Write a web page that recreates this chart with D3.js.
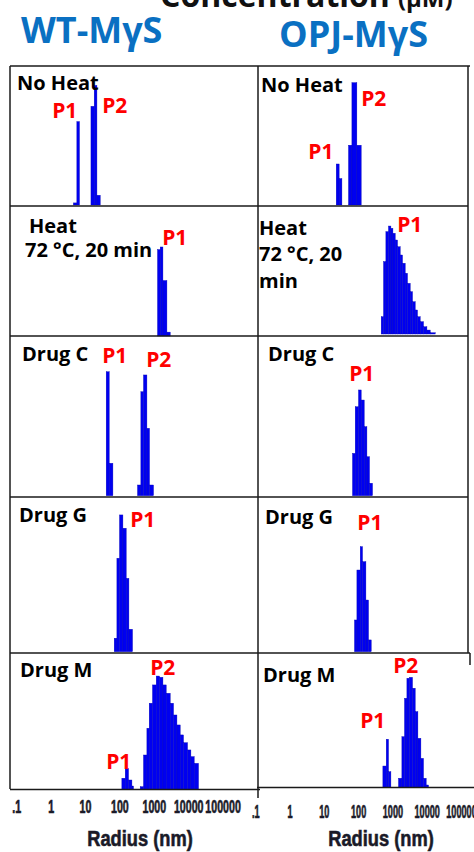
<!DOCTYPE html>
<html><head><meta charset="utf-8">
<script src="https://cdn.jsdelivr.net/npm/d3@7"></script>
<style>html,body{margin:0;padding:0;background:#fff;overflow:hidden}</style>
</head><body><svg id="c" width="474" height="852"></svg>
<script>
// ---------- DATA (radius in nm, intensity in % of panel height) ----------
const radiusTicks = [0.1, 1, 10, 100, 1000, 10000, 100000];
const columnNames = ["WT-MγS", "OPJ-MγS"];
const conditionNames = [["No Heat"], ["Heat", "72 °C, 20 min"], ["Drug C"], ["Drug G"], ["Drug M"]];
const conditionNamesOPJ = [["No Heat"], ["Heat", "72 °C, 20", "min"], ["Drug C"], ["Drug G"], ["Drug M"]];

// bars: [radius start, radius end, intensity]
const wtNoHeat = [[4.6,5.8,1.5],[5.8,6.9,60],[14.9,18.5,71],[18.5,22.2,86],[22.2,27.7,7]];
const wtHeat = [[1283,1535,67],[1535,1840,69],[1840,2404,43],[2404,3000,3]];
const wtDrugC = [[41.3,50.5,77.6],[50.5,64.7,20.3],[336,421,6.7],[421,502,65.1],[502,630,75.6],[630,750,42.2],[750,980,6.7]];
const wtDrugG = [[70.6,84.6,8.7],[84.6,100.7,60.4],[100.7,126.4,88.4],[126.4,157.6,79.8],[157.6,188.9,47.4],[188.9,240.4,14.5]];
const wtDrugM = [[118,147.5,8.1],[147.5,184,15.4],[184,231,6.8],[231,257,2.4],
  [402,502,1.9],[502,630,25.1],[630,735,44.7],[735,917,63],[917,1175,76.4],[1175,1465,82.9],[1465,1841,82],
  [1841,2292,76.4],[2292,2998,70.3],[2998,3741,63],[3741,4698,54.4],[4698,5852,47.1],[5852,7298,39.8],
  [7298,9550,34.1],[9550,11970,28.8],[11970,14930,23.9],[14930,19920,19]];

const opjNoHeat = [[23,28,29.5],[28,33.7,19],[52.5,66,43],[66,92,88],[92,123,43]];
const opjHeat = [[471,551,13.6],[551,646,57],[646,769,80.6],[769,904,85],[904,1035,83.2],[1035,1207,79.3],
  [1207,1409,74],[1409,1688,68.7],[1688,1969,62.2],[1969,2361,55.7],[2361,2754,47.8],[2754,3304,39.9],
  [3304,3855,33.3],[3855,4621,25.4],[4621,5393,18.9],[5393,6463,13.6],[6463,8070,9.7],[8070,10140,5.7],
  [10140,12650,3.1],[12650,17700,1.0]];
const opjDrugC = [[68.7,82.3,26.5],[82.3,102.7,55.7],[102.7,123,66.2],[123,150.6,59.9],[150.6,180.6,43.2],[180.6,215,24.4],[215,263,7.8]];
const opjDrugG = [[78.5,92.3,20.5],[92.3,115.2,52.8],[115.2,134.4,67.9],[134.4,168.7,58.2],[168.7,201,33.4],[201,241,7.6]];
const opjDrugM = [[528,660,15.8],[660,770,35.7],[770,904,11.6],
  [1506,1891,6.7],[1891,2254,37.6],[2254,2648,66.1],[2648,3153,81],[3153,3855,81.7],[3855,4621,73.6],
  [4621,5535,56.2],[5535,6771,36.4],[6771,8070,21.5],[8070,9660,6.7],[9660,11280,1.7]];

// peak labels: [text, radius, intensity]
const wtPeaks = [
  [["P1",1.11,62.6],["P2",31.6,66.2]],
  [["P1",1754,70.5]],
  [["P1",31.6,83.1],["P2",601,80.6]],
  [["P1",206,80.6]],
  [["P1",41.3,14.9],["P2",785,83.7]]
];
const opjPeaks = [
  [["P1",3.51,33.1],["P2",123,71.2]],
  [["P1",1380,80.3]],
  [["P1",55,71.8]],
  [["P1",94.2,78.7]],
  [["P1",115,44.1],["P2",1054,84.9]]
];

// ---------- LAYOUT ----------
const svg = d3.select("#c");
const xL = d3.scaleLog().domain([0.1, 1e5]).range([16.2, 16.2 + 34.4 * 6]);
const xR = d3.scaleLog().domain([0.1, 1e5]).range([255.2, 255.2 + 34.3 * 6]);
const rowsL = [[66,205],[207,336],[336,495.7],[497,651.7],[652.7,789.3]];
const rowsR = [[66,205],[207,334],[336,495.7],[497,651.7],[652.7,787.3]];
const titleOffL = [[[7,24]],[[19,26],[15,50]],[[12,25]],[[9,25]],[[10,24]]];
const titleOffR = [[[3,26]],[[1,28],[1,54],[1,81]],[[10,25]],[[7,27]],[[5,29]]];

const columns = [
  {x: xL, x0: 10, rows: rowsL, data: [wtNoHeat, wtHeat, wtDrugC, wtDrugG, wtDrugM], peaks: wtPeaks, names: conditionNames, off: titleOffL},
  {x: xR, x0: 258, rows: rowsR, data: [opjNoHeat, opjHeat, opjDrugC, opjDrugG, opjDrugM], peaks: opjPeaks, names: conditionNamesOPJ, off: titleOffR}
];

const FONT = "'Open Sans', 'DejaVu Sans', sans-serif";
const NARROW = "'Liberation Sans', Arial, sans-serif";

// cut-off header
const hdr = svg.append("text").attr("x", 160).attr("y", 7)
  .attr("font-family", FONT).attr("font-weight", 700).attr("font-size", 32).attr("fill", "#111");
hdr.append("tspan").text("Concentration");
hdr.append("tspan").attr("dx", 8).attr("font-size", 24).text("(μM)");

// column titles
svg.append("text").attr("x", 21).attr("y", 43).text(columnNames[0])
  .attr("font-family", FONT).attr("font-weight", 700).attr("font-size", 36).attr("fill", "#0a70c2");
svg.append("text").attr("x", 279).attr("y", 47).text(columnNames[1])
  .attr("font-family", FONT).attr("font-weight", 700).attr("font-size", 36).attr("fill", "#0a70c2");

// bars, labels
columns.forEach(col => {
  col.data.forEach((bars, i) => {
    const [top, bottom] = col.rows[i];
    const y = d3.scaleLinear().domain([0, 100]).range([bottom, top]);
    const g = svg.append("g");
    g.selectAll("rect").data(bars).join("rect")
      .attr("x", d => col.x(d[0]))
      .attr("width", d => col.x(d[1]) - col.x(d[0]))
      .attr("y", d => y(d[2]))
      .attr("height", d => bottom - y(d[2]))
      .attr("fill", "#0000f0").attr("stroke", "#0000b8").attr("stroke-width", 0.4);
    g.selectAll("text.pk").data(col.peaks[i]).join("text").attr("class", "pk")
      .attr("x", d => col.x(d[1])).attr("y", d => y(d[2])).text(d => d[0])
      .attr("font-family", FONT).attr("font-weight", 700).attr("font-size", 21).attr("fill", "#ff0000");
    col.names[i].forEach((line, j) => {
      const o = col.off[i][j];
      g.append("text").attr("x", col.x0 + o[0]).attr("y", top + o[1]).text(line)
        .attr("font-family", FONT).attr("font-weight", 700).attr("font-size", 20).attr("fill", "#000");
    });
  });
});

// grid lines
const grid = svg.append("g").attr("stroke", "#1a1a1a").attr("stroke-width", 1.5).attr("fill", "none");
[[10,66,470,66],[10,206,468,206],[10,336,468,336],[10,497,468,497],[10,653,470,653],
 [10,66,10,789],[258,66,258,798],[468,66,468,653],[470,653,470,665],
 [10,789.5,260,789.5],[257,787.5,474,787.5]].forEach(l => {
  grid.append("line").attr("x1", l[0]).attr("y1", l[1]).attr("x2", l[2]).attr("y2", l[3]);
});

// axes
const fmt = d => d < 1 ? ".1" : d3.format("d")(d);
function axis(scale, yPos, pad, sx, cx) {
  const g = svg.append("g").attr("transform", `translate(0,${yPos})`)
    .call(d3.axisBottom(scale).tickValues(radiusTicks).tickSize(0).tickPadding(pad).tickFormat(fmt));
  g.select(".domain").remove();
  g.selectAll("text").attr("font-family", NARROW).attr("font-weight", 700).attr("font-size", 19)
    .attr("fill", "#1a1a28").attr("stroke", "#1a1a28").attr("stroke-width", 0.7)
    .attr("transform", `scale(${sx},1)`);
  svg.append("text").attr("transform", `translate(${cx},846) scale(0.83,1)`)
    .attr("text-anchor", "middle").text("Radius (nm)")
    .attr("font-family", NARROW).attr("font-weight", 700).attr("font-size", 22)
    .attr("fill", "#1a1a28").attr("stroke", "#1a1a28").attr("stroke-width", 0.6);
}
axis(xL, 789.3, 10, 0.56, 140);
axis(xR, 787.3, 17, 0.48, 381);
</script></body></html>
